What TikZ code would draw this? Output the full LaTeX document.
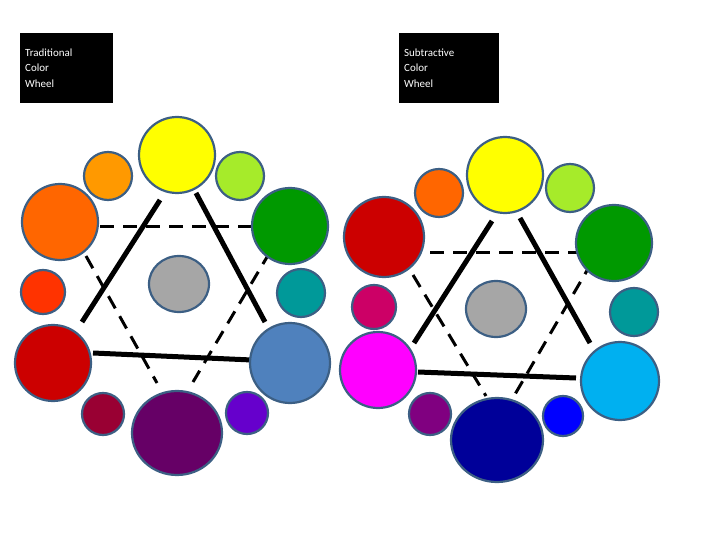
\documentclass[tikz,border=0pt]{standalone}
\usepackage{fontspec}
\setmainfont{Carlito}
\begin{document}
\begin{tikzpicture}[x=1bp,y=-1bp,
  dot/.style={draw=ol,line width=2.2bp},
  solidln/.style={line width=5bp,black},
  dashln/.style={line width=3bp,black,dash pattern=on 14bp off 9bp},
  lab/.style={fill=black,text=white,anchor=north west,align=left,font=\fontsize{11}{16}\selectfont,inner sep=5bp,minimum width=93bp,minimum height=70bp,text width=83bp}]
\definecolor{ol}{HTML}{3C5F84}
\useasboundingbox (0,0) rectangle (720,540);
\node[lab] (t1) at (20,33) {Traditional\\Color\\Wheel};
\node[lab,minimum width=100bp,text width=90bp] (t2) at (399,33) {Subtractive\\Color\\Wheel};
% left wheel lines
\draw[dashln] (100,227) -- (256,227);
\draw[dashln] (86,256) -- (157,383);
\draw[dashln] (270,252) -- (193,382);
\draw[solidln] (160,200) -- (82,322);
\draw[solidln] (196,193) -- (265,322);
\draw[solidln] (93,353) -- (252,360);
% left circles
\filldraw[dot,fill={rgb,255:red,255;green,255;blue,0}] (177,155) circle (38);
\filldraw[dot,fill={rgb,255:red,255;green,153;blue,0}] (108,176) circle (24);
\filldraw[dot,fill={rgb,255:red,166;green,235;blue,42}] (240,176) circle (24);
\filldraw[dot,fill={rgb,255:red,255;green,102;blue,0}] (60,222) circle (38);
\filldraw[dot,fill={rgb,255:red,0;green,153;blue,0}] (290,226) circle (38);
\filldraw[dot,fill={rgb,255:red,255;green,51;blue,0}] (43,292) circle (22);
\filldraw[dot,fill={rgb,255:red,0;green,153;blue,153}] (301,293) circle (24);
\filldraw[dot,fill={rgb,255:red,204;green,0;blue,0}] (53,363) circle (38);
\filldraw[dot,fill={rgb,255:red,79;green,129;blue,189}] (290,363) circle (40);
\filldraw[dot,fill={rgb,255:red,153;green,0;blue,51}] (103,414) circle (21);
\filldraw[dot,fill={rgb,255:red,102;green,0;blue,102}] (177,433) ellipse (45 and 42);
\filldraw[dot,fill={rgb,255:red,102;green,0;blue,204}] (247,413) circle (21);
\filldraw[dot,fill={rgb,255:red,166;green,166;blue,166}] (179,284) ellipse (30 and 28);
% right wheel lines
\draw[dashln] (430,253) -- (584,253);
\draw[dashln] (413,275) -- (486,396);
\draw[dashln] (592,262) -- (514,396);
\draw[solidln] (492,221) -- (414,343);
\draw[solidln] (520,218) -- (590,343);
\draw[solidln] (418,372) -- (576,378);
% right circles
\filldraw[dot,fill={rgb,255:red,255;green,255;blue,0}] (505,175) circle (38);
\filldraw[dot,fill={rgb,255:red,255;green,102;blue,0}] (439,193) circle (24);
\filldraw[dot,fill={rgb,255:red,166;green,235;blue,42}] (570,188) circle (24);
\filldraw[dot,fill={rgb,255:red,204;green,0;blue,0}] (384,237) circle (40);
\filldraw[dot,fill={rgb,255:red,0;green,153;blue,0}] (614,243) circle (38);
\filldraw[dot,fill={rgb,255:red,204;green,0;blue,102}] (374,307) circle (22);
\filldraw[dot,fill={rgb,255:red,0;green,153;blue,153}] (634,312) circle (24);
\filldraw[dot,fill={rgb,255:red,255;green,0;blue,255}] (378,370) circle (38);
\filldraw[dot,fill={rgb,255:red,0;green,176;blue,240}] (620,381) circle (39);
\filldraw[dot,fill={rgb,255:red,128;green,0;blue,128}] (430,414) circle (21);
\filldraw[dot,fill={rgb,255:red,0;green,0;blue,153}] (497,440) ellipse (46 and 42);
\filldraw[dot,fill={rgb,255:red,0;green,0;blue,255}] (563,416) circle (20);
\filldraw[dot,fill={rgb,255:red,166;green,166;blue,166}] (496,309) ellipse (30 and 28);
\end{tikzpicture}
\end{document}
